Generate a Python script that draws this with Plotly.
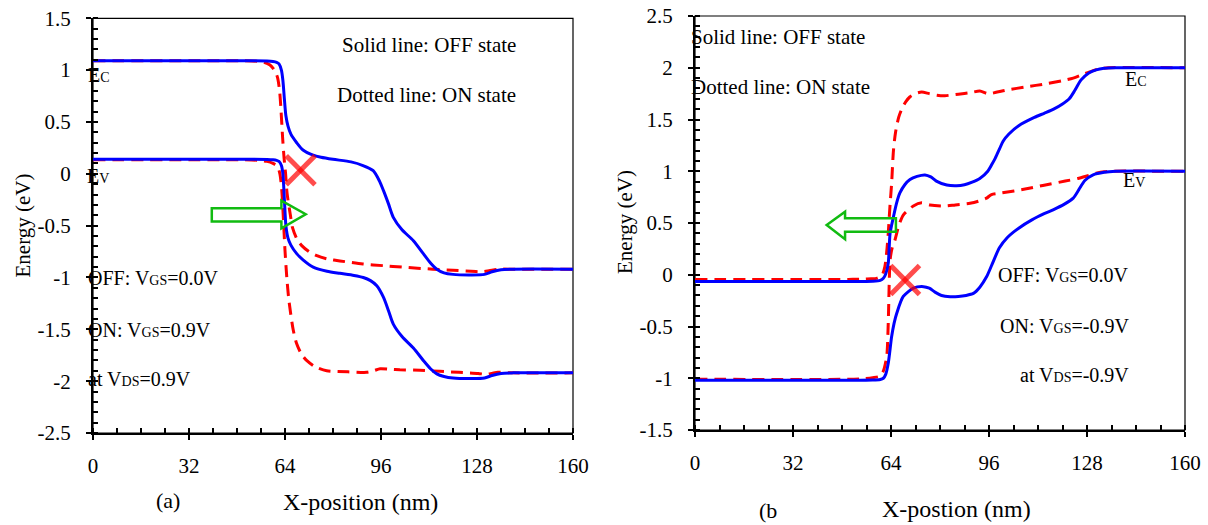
import plotly.graph_objects as go

# ---------------- data: panel (a) ----------------
a_off_ec_x = [0, 50, 58, 60, 61.2, 62, 62.8, 63.3, 63.8, 64.3, 65, 66, 67.9, 70, 73.4, 76, 80, 86, 90, 93.4, 95.5, 96.8,
              98.5, 100.1, 103, 106.8, 110.1, 112.5, 114.6, 117, 120, 126, 130.5, 133, 136, 140, 160]
a_off_ec_y = [1.09, 1.09, 1.088, 1.083, 1.075, 1.06, 1.0, 0.9, 0.72, 0.56, 0.46, 0.38, 0.30, 0.23, 0.18, 0.16, 0.14,
              0.115, 0.08, 0.03, -0.07, -0.16, -0.29, -0.42, -0.54, -0.645, -0.77, -0.86, -0.92, -0.955, -0.97,
              -0.975, -0.97, -0.945, -0.925, -0.92, -0.92]
a_off_ev_x = [0, 50, 58, 60, 61.2, 62, 62.8, 63.3, 63.8, 64.3, 65, 66, 67.9, 70, 73.4, 78, 82.3, 87, 90.1, 92.5, 94.6,
              96.8, 98.5, 100.1, 103, 106.8, 110.1, 112.5, 114.6, 117, 120, 126, 130.5, 133, 136, 140, 160]
a_off_ev_y = [0.14, 0.14, 0.138, 0.135, 0.13, 0.12, 0.08, 0.0, -0.25, -0.5, -0.62, -0.69, -0.77, -0.83, -0.9, -0.94,
              -0.96, -0.98, -1.0, -1.03, -1.08, -1.19, -1.32, -1.45, -1.57, -1.68, -1.80, -1.88, -1.93, -1.955,
              -1.97, -1.975, -1.97, -1.945, -1.925, -1.92, -1.92]
a_on_ec_x = [0, 50, 55, 57, 59, 60.5, 61.5, 62.2, 62.7, 63.2, 63.7, 64.2, 64.7, 65.8, 66.5, 68, 69.5, 72, 74.6, 78,
             82.3, 90, 96.8, 103, 113.3, 120, 126, 129.5, 132, 135, 140, 160]
a_on_ec_y = [1.09, 1.09, 1.085, 1.075, 1.05, 1.0, 0.93, 0.8, 0.6, 0.35, 0.15, 0.0, -0.19, -0.4, -0.52, -0.63, -0.69,
             -0.75, -0.79, -0.82, -0.84, -0.87, -0.886, -0.90, -0.92, -0.93, -0.94, -0.945, -0.935, -0.92, -0.92,
             -0.92]
a_on_ev_x = [0, 50, 55, 58, 60, 61.5, 62.3, 62.9, 63.4, 64.0, 64.6, 65.3, 66.7, 67.9, 69.5, 71.2, 74, 77.9, 85, 91.2,
             93.5, 95.7, 99, 102.3, 109, 115.6, 122, 128.4, 131, 133, 135, 140, 160]
a_on_ev_y = [0.135, 0.135, 0.13, 0.12, 0.1, 0.07, 0.0, -0.15, -0.4, -0.74, -1.0, -1.22, -1.5, -1.64, -1.74, -1.80,
             -1.86, -1.90, -1.91, -1.915, -1.90, -1.88, -1.885, -1.89, -1.895, -1.905, -1.915, -1.925, -1.935,
             -1.925, -1.915, -1.92, -1.92]

# ---------------- data: panel (b) ----------------
b_off_ec_x = [0, 50, 58, 60.5, 61.5, 62.3, 63.1, 63.7, 64.8, 65.8, 66.9, 68.5, 70.2, 72.5, 75.1, 77, 78.8, 82.2, 85.4,
              88, 90.5, 93, 95.6, 97, 98.1, 99.5, 100.6, 102.5, 105.7, 110.8, 114, 117.1, 120, 122.2, 124, 126,
              128.6, 131, 133.6, 137.4, 160]
b_off_ec_y = [-0.065, -0.065, -0.063, -0.055, -0.035, 0.01, 0.11, 0.40, 0.56, 0.69, 0.79, 0.87, 0.92, 0.95, 0.964,
              0.945, 0.905, 0.867, 0.86, 0.87, 0.895, 0.93, 1.0, 1.07, 1.13, 1.22, 1.29, 1.36, 1.44, 1.52, 1.56,
              1.60, 1.65, 1.70, 1.78, 1.88, 1.95, 1.98, 1.995, 2.0, 2.0]
b_off_ev_x = [0, 50, 58, 60.5, 61.5, 62.3, 63.1, 64.2, 65.0, 65.9, 68, 71.3, 74.6, 76.5, 78.5, 80.5, 83.3, 86, 88.5,
              90.9, 93, 95.2, 97, 99.4, 102, 105.7, 110, 114, 117.1, 120.5, 123.5, 125.3, 127.3, 130, 133.6,
              137.4, 160]
b_off_ev_y = [-1.02, -1.02, -1.018, -1.012, -1.0, -0.96, -0.856, -0.6, -0.47, -0.37, -0.21, -0.13, -0.115, -0.13,
              -0.17, -0.2, -0.212, -0.21, -0.2, -0.18, -0.12, -0.02, 0.1, 0.26, 0.36, 0.45, 0.53, 0.59, 0.63,
              0.68, 0.74, 0.82, 0.91, 0.965, 0.99, 1.0, 1.0]
b_on_ec_x = [0, 50, 55, 57.5, 59.3, 61, 62, 62.6, 63.1, 63.7, 64.2, 64.8, 65.5, 66.5, 67.5, 68.8, 70.2, 72, 74, 76.5,
             79, 81.6, 86, 90, 93, 95.6, 98, 101.9, 108, 114.6, 120, 123.5, 127, 129.8, 132, 135, 160]
b_on_ec_y = [-0.045, -0.045, -0.042, -0.038, -0.035, -0.01, 0.08, 0.22, 0.40, 0.68, 0.88, 1.2, 1.38, 1.52, 1.6, 1.67,
             1.72, 1.75, 1.765, 1.75, 1.735, 1.73, 1.745, 1.76, 1.775, 1.75, 1.76, 1.785, 1.815, 1.845, 1.875, 1.9,
             1.94, 1.97, 1.99, 2.0, 2.0]
b_on_ev_x = [0, 50, 55, 58, 60.4, 61.5, 62.6, 63.1, 63.7, 64.3, 65.3, 66.5, 68, 71.3, 74, 76.7, 81.1, 85, 89.8, 92.5,
             95.2, 96.8, 100, 108.2, 114, 120.9, 125, 128.6, 131, 133.6, 136, 160]
b_on_ev_y = [-1.01, -1.01, -1.005, -0.995, -0.98, -0.93, -0.79, -0.47, 0.14, 0.25, 0.336, 0.47, 0.577, 0.665,
             0.695, 0.674, 0.664, 0.675, 0.69, 0.71, 0.74, 0.775, 0.79, 0.83, 0.865, 0.905, 0.93, 0.96, 0.98,
             0.995, 1.0, 1.0]

x_ticks = [0, 32, 64, 96, 128, 160]
a_y_ticks = [-2.5, -2, -1.5, -1, -0.5, 0, 0.5, 1, 1.5]
b_y_ticks = [-1.5, -1, -0.5, 0, 0.5, 1, 1.5, 2, 2.5]

FONT = "Liberation Serif, Times New Roman, DejaVu Serif, serif"
BLUE = "#0000FF"
RED = "#FF0000"
GREEN = "#11BB11"
XRED = "rgba(255,0,0,0.7)"

W, H = 1208, 525
X_RANGE = [0, 160]
A_Y_RANGE = [-2.5, 1.5]
B_Y_RANGE = [-1.5, 2.5]
xa_dom = [93 / W, 573 / W]
ya_dom = [(H - 433) / H, (H - 18.3) / H]
xb_dom = [695 / W, 1185 / W]
yb_dom = [(H - 430) / H, (H - 16) / H]

fig = go.Figure()

for (xa, ya, xax, yax) in [(a_on_ec_x, a_on_ec_y, "x", "y"), (a_on_ev_x, a_on_ev_y, "x", "y"),
                           (b_on_ec_x, b_on_ec_y, "x2", "y2"), (b_on_ev_x, b_on_ev_y, "x2", "y2")]:
    fig.add_trace(go.Scatter(x=xa, y=ya, mode="lines", xaxis=xax, yaxis=yax, showlegend=False,
                             line=dict(color=RED, width=3, dash="12px,7px", shape="spline", smoothing=0.7)))
for (xa, ya, xax, yax) in [(a_off_ec_x, a_off_ec_y, "x", "y"), (a_off_ev_x, a_off_ev_y, "x", "y"),
                           (b_off_ec_x, b_off_ec_y, "x2", "y2"), (b_off_ev_x, b_off_ev_y, "x2", "y2")]:
    fig.add_trace(go.Scatter(x=xa, y=ya, mode="lines", xaxis=xax, yaxis=yax, showlegend=False,
                             line=dict(color=BLUE, width=3, shape="spline", smoothing=0.7)))

# invisible traces so the overlay tick axes are drawn
fig.add_trace(go.Scatter(x=[None], y=[None], xaxis="x3", yaxis="y3", showlegend=False, hoverinfo="skip"))
fig.add_trace(go.Scatter(x=[None], y=[None], xaxis="x4", yaxis="y4", showlegend=False, hoverinfo="skip"))

tickfont = dict(family=FONT, size=21, color="black")

def base_x(domain, anchor):
    return dict(domain=domain, anchor=anchor, range=X_RANGE, tickvals=x_ticks, ticks="outside", ticklen=5,
                tickwidth=2, tickcolor="black", showline=True, linecolor="black", linewidth=2, showgrid=False,
                zeroline=False, tickfont=tickfont, ticklabelstandoff=8, automargin=False,
                minor=dict(dtick=8, ticks="inside", ticklen=5, tickwidth=1.5, tickcolor="black", showgrid=False))

def base_y(domain, anchor, rng, tv):
    return dict(domain=domain, anchor=anchor, range=rng, tickvals=tv, ticktext=[f"{v:g}" for v in tv],
                ticks="outside", ticklen=5, tickwidth=2, tickcolor="black", showline=True, linecolor="black",
                linewidth=2, showgrid=False, zeroline=False, tickfont=tickfont, ticklabelstandoff=11,
                automargin=False,
                minor=dict(dtick=0.1, ticks="inside", ticklen=5, tickwidth=1.5, tickcolor="black",
                           showgrid=False))

def overlay_x(over, anchor, domain):
    return dict(overlaying=over, anchor=anchor, domain=domain, range=X_RANGE, tickvals=x_ticks, ticks="inside",
                ticklen=4, tickwidth=2, tickcolor="black", showticklabels=False, showline=False,
                showgrid=False, zeroline=False, automargin=False)

def overlay_y(over, anchor, domain, rng, tv):
    return dict(overlaying=over, anchor=anchor, domain=domain, range=rng, tickvals=tv, ticks="inside",
                ticklen=5, tickwidth=2, tickcolor="black", showticklabels=False, showline=False,
                showgrid=False, zeroline=False, automargin=False)

fig.update_layout(
    template="none",
    width=W, height=H, autosize=False, margin=dict(l=0, r=0, t=0, b=0, pad=0),
    paper_bgcolor="white", plot_bgcolor="white", showlegend=False,
    font=dict(family=FONT, color="black"),
    xaxis=base_x(xa_dom, "y"),
    yaxis=base_y(ya_dom, "x", A_Y_RANGE, a_y_ticks),
    xaxis2=base_x(xb_dom, "y2"),
    yaxis2=base_y(yb_dom, "x2", B_Y_RANGE, b_y_ticks),
    xaxis3=overlay_x("x", "y", xa_dom),
    yaxis3=overlay_y("y", "x", ya_dom, A_Y_RANGE, a_y_ticks),
    xaxis4=overlay_x("x2", "y2", xb_dom),
    yaxis4=overlay_y("y2", "x2", yb_dom, B_Y_RANGE, b_y_ticks),
)

shapes = []
# thin frames (top and right edges)
for xr, yr in [("x", "y"), ("x2", "y2")]:
    shapes.append(dict(type="rect", xref=f"{xr} domain", yref=f"{yr} domain", x0=0, x1=1, y0=0, y1=1,
                       line=dict(color="black", width=1.2), fillcolor="rgba(0,0,0,0)", layer="below"))

# red crosses
def cross(xr, yr, cx, cy, dx, dy):
    for s in (1, -1):
        shapes.append(dict(type="line", xref=xr, yref=yr, x0=cx - dx, x1=cx + dx, y0=cy - s * dy, y1=cy + s * dy,
                           line=dict(color=XRED, width=5)))

cross("x", "y", 69.2, 0.035, 4.8, 0.14)
cross("x2", "y2", 68.6, -0.05, 4.7, 0.14)

# green hollow arrows
shapes.append(dict(type="path", xref="x", yref="y",
                   path="M 39.6,-0.332 L 62.8,-0.332 L 62.8,-0.259 L 70.9,-0.390 L 62.8,-0.525 L 62.8,-0.461 "
                        "L 39.6,-0.461 Z",
                   line=dict(color=GREEN, width=2.5), fillcolor="rgba(0,0,0,0)"))
shapes.append(dict(type="path", xref="x2", yref="y2",
                   path="M 65.6,0.545 L 49.0,0.545 L 49.0,0.609 L 43.0,0.481 L 49.0,0.343 L 49.0,0.416 "
                        "L 65.6,0.416 Z",
                   line=dict(color=GREEN, width=2.5), fillcolor="rgba(0,0,0,0)"))
fig.update_layout(shapes=shapes)

SUB = "<span style='font-size:14px'>{}</span>"
ann = []

def to_paper(x, y, xdom, ydom, yrng):
    px = xdom[0] + (x - X_RANGE[0]) / (X_RANGE[1] - X_RANGE[0]) * (xdom[1] - xdom[0])
    py = ydom[0] + (y - yrng[0]) / (yrng[1] - yrng[0]) * (ydom[1] - ydom[0])
    return px, py

def txt(text, x, y, size=20, xanchor="center", yanchor="middle", angle=0):
    ann.append(dict(text=text, x=x, y=y, xref="paper", yref="paper", showarrow=False, xanchor=xanchor,
                    yanchor=yanchor, textangle=angle, font=dict(family=FONT, size=size, color="black")))

def txt_a(text, x, y, **kw):
    px, py = to_paper(x, y, xa_dom, ya_dom, A_Y_RANGE)
    txt(text, px, py, **kw)

def txt_b(text, x, y, **kw):
    px, py = to_paper(x, y, xb_dom, yb_dom, B_Y_RANGE)
    txt(text, px, py, **kw)

# panel (a)
txt_a("Solid line: OFF state", 141.6, 1.243, size=21, xanchor="right")
txt_a("Dotted line: ON state", 141.6, 0.76, size=21, xanchor="right")
txt_a("E" + SUB.format("C"), -2.3, 0.955, xanchor="left")
txt_a("E" + SUB.format("V"), -2.7, -0.02, xanchor="left")
txt_a("OFF: V" + SUB.format("GS") + "=0.0V", -2.3, -1.007, xanchor="left")
txt_a("ON: V" + SUB.format("GS") + "=0.9V", -2.3, -1.507, xanchor="left")
txt_a("at V" + SUB.format("DS") + "=0.9V", -2.3, -1.98, xanchor="left")
txt("Energy (eV)", 22 / W, (H - 225.5) / H, size=21, angle=-90)
txt("(a)", 168 / W, (H - 500) / H, size=22)
txt("X-position (nm)", 360 / W, (H - 502) / H, size=24)

# panel (b)
txt_b("Solid line: OFF state", -1.8, 2.30, size=21, xanchor="left")
txt_b("Dotted line: ON state", -1.8, 1.81, size=21, xanchor="left")
txt_b("E" + SUB.format("C"), 143.9, 1.894)
txt_b("E" + SUB.format("V"), 143.3, 0.915)
txt_b("OFF: V" + SUB.format("GS") + "=0.0V", 142.4, -0.002, xanchor="right")
txt_b("ON: V" + SUB.format("GS") + "=-0.9V", 142.4, -0.495, xanchor="right")
txt_b("at V" + SUB.format("DS") + "=-0.9V", 142.4, -0.969, xanchor="right")
txt("Energy (eV)", 625 / W, (H - 222) / H, size=21, angle=-90)
txt("(b", 768 / W, (H - 510) / H, size=22)
txt("X-postion (nm)", 956 / W, (H - 509) / H, size=24)

fig.update_layout(annotations=ann)
fig.write_html("out.html")
